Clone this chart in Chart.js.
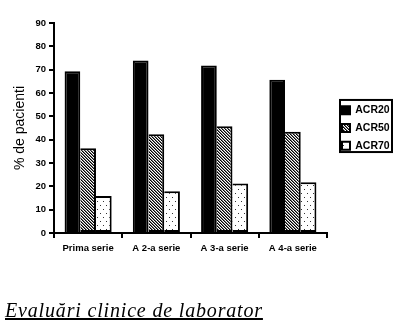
<!DOCTYPE html>
<html><head><meta charset="utf-8">
<script src="https://cdn.jsdelivr.net/npm/chart.js@4.4.0/dist/chart.umd.min.js"></script>
<style>
html,body{margin:0;padding:0;background:#fff;width:413px;height:334px;overflow:hidden}
#wrap{position:absolute;left:0;top:0;width:413px;height:334px}
#cap{position:absolute;left:5px;top:298px;font-family:"Liberation Serif","Times New Roman",serif;font-style:italic;font-size:20px;letter-spacing:0.83px;line-height:24px;text-decoration:underline;color:#000;white-space:nowrap}
</style></head><body>
<div id="wrap"><canvas id="c" width="413" height="334"></canvas></div>
<div id="cap">Evaluări clinice de laborator</div>
<script>
const categories = ['Prima serie', 'A 2-a serie', 'A 3-a serie', 'A 4-a serie'];
const seriesNames = ['ACR20', 'ACR50', 'ACR70'];
const acr20 = [69.3, 73.9, 71.8, 65.7];
const acr50 = [36.3, 42.3, 45.7, 43.4];
const acr70 = [15.9, 17.9, 21.2, 21.7];
const yTickValues = [0, 10, 20, 30, 40, 50, 60, 70, 80, 90];
const yAxisTitle = '% de pacienti';

function makePattern(kind) {
  const c = document.createElement('canvas');
  const ctx = c.getContext('2d');
  if (kind === 'hatch') {
    c.width = 3; c.height = 3;
    ctx.fillStyle = '#fff'; ctx.fillRect(0, 0, 3, 3);
    for (let i = 0; i < 3; i++) {
      ctx.fillStyle = '#000'; ctx.fillRect(i, i, 1, 1);
      ctx.fillStyle = '#777'; ctx.fillRect((i + 1) % 3, i, 1, 1);
    }
  } else {
    c.width = 6; c.height = 8;
    ctx.fillStyle = '#fff'; ctx.fillRect(0, 0, 6, 8);
    ctx.fillStyle = '#333';
    ctx.fillRect(1, 1, 1, 1);
    ctx.fillRect(4, 5, 1, 1);
  }
  return document.getElementById('c').getContext('2d').createPattern(c, 'repeat');
}
const fills = ['#000', makePattern('hatch'), makePattern('dots')];

const LEGEND_PAD = 7.3;
const LEGEND_SHIFT = 7.7;

const legendBox = {
  id: 'legendBox',
  afterLayout(chart) {
    const lg = chart.legend;
    if (!lg) return;
    lg.left += LEGEND_SHIFT;
    lg.right += LEGEND_SHIFT;
  },
  afterDraw(chart) {
    const lg = chart.legend;
    if (!lg || !lg.legendHitBoxes || !lg.legendHitBoxes.length) return;
    const hb = lg.legendHitBoxes;
    const last = hb[hb.length - 1];
    const l = lg.left + LEGEND_PAD - 2;
    const t = hb[0].top - 5;
    const b = last.top + last.height + 1;
    const ctx = chart.ctx;
    ctx.save();
    ctx.lineWidth = 2; ctx.strokeStyle = '#000';
    ctx.strokeRect(l, t, 52, b - t);
    ctx.restore();
  }
};

const dataSets = [acr20, acr50, acr70].map((vals, i) => ({
  label: seriesNames[i],
  data: vals,
  backgroundColor: fills[i],
  borderColor: '#000',
  borderWidth: 2,
  borderSkipped: i === 0 ? 'start' : 'left',
  categoryPercentage: 0.69,
  barPercentage: 1.0
}));

const tickFont = { family: '"Liberation Sans", Arial, sans-serif', size: 9.5, weight: 'bold' };

new Chart(document.getElementById('c'), {
  type: 'bar',
  data: { labels: categories, datasets: dataSets },
  plugins: [legendBox],
  options: {
    responsive: false,
    devicePixelRatio: 1,
    animation: false,
    layout: { padding: { top: 23, right: 26, bottom: 0, left: 0 } },
    plugins: {
      tooltip: { enabled: false },
      legend: {
        position: 'right',
        align: 'center',
        fullSize: false,
        maxWidth: 60,
        labels: {
          boxWidth: 8, boxHeight: 8, padding: LEGEND_PAD, color: '#000',
          font: { family: '"Liberation Sans", Arial, sans-serif', size: 10.5, weight: 'bold' },
          generateLabels(chart) {
            return chart.data.datasets.map((d, i) => ({
              text: d.label, fillStyle: fills[i], strokeStyle: '#000', lineWidth: 2,
              datasetIndex: i, hidden: false, fontColor: '#000'
            }));
          }
        }
      }
    },
    scales: {
      x: {
        grid: { offset: true, drawOnChartArea: false, drawTicks: true, tickLength: 5, color: '#000', lineWidth: 2 },
        border: { display: true, color: '#000', width: 2 },
        ticks: { color: '#000', font: tickFont, padding: 5, maxRotation: 0 },
        afterFit(s) { s.height = 334 - 233; }
      },
      y: {
        min: yTickValues[0], max: yTickValues[yTickValues.length - 1],
        afterBuildTicks(s) { s.ticks = yTickValues.map(v => ({ value: v })); },
        grid: { drawOnChartArea: false, drawTicks: true, tickLength: 5, color: '#000', lineWidth: 2 },
        border: { display: true, color: '#000', width: 2 },
        ticks: { color: '#000', font: tickFont, padding: 3 },
        title: { display: true, text: yAxisTitle, color: '#000', padding: { top: 12, bottom: 0 },
                 font: { family: '"Liberation Sans", Arial, sans-serif', size: 14, weight: 'normal' } },
        afterFit(s) { s.width = 54; }
      }
    }
  }
});
</script>
</body></html>
